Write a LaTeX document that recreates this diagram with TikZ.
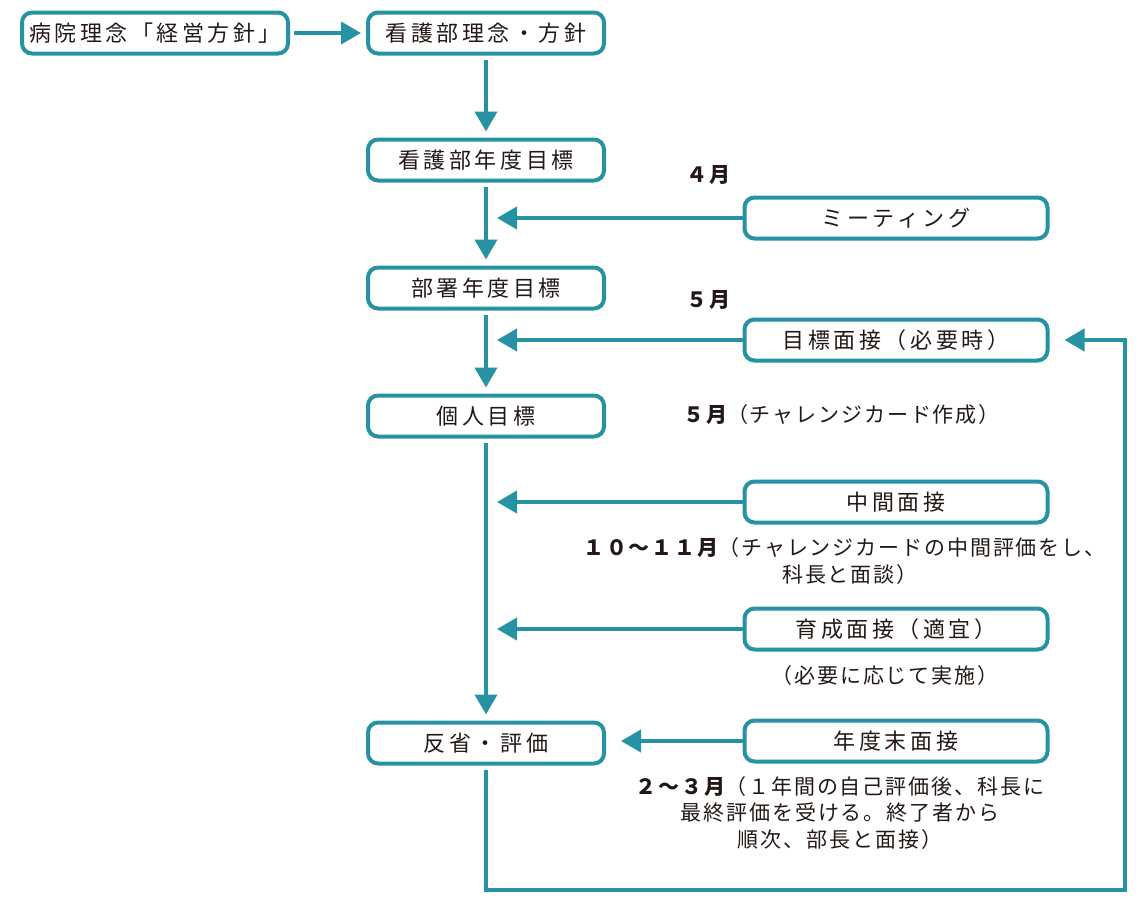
\documentclass[tikz,border=0pt]{standalone}
\usepackage{fontspec}
\setmainfont{Noto Sans CJK JP}
\newfontfamily\boxfont[LetterSpace=16]{Noto Sans CJK JP}
\newfontfamily\lblfont[LetterSpace=9]{Noto Sans CJK JP}
\usetikzlibrary{arrows.meta}
\definecolor{teal1}{RGB}{38,146,164}
\definecolor{ink}{RGB}{35,24,21}
\begin{document}
\begin{tikzpicture}[x=1pt,y=-1pt,
  bx/.style={draw=teal1, line width=4pt, rounded corners=10pt, minimum height=41pt, inner sep=0pt, text=ink, font=\boxfont\fontsize{22}{24}\selectfont},
  lbox/.style={bx, minimum width=236pt},
  rbox/.style={bx, minimum width=303pt},
  arr/.style={draw=teal1, line width=4pt, -{Triangle[length=20pt,width=22pt]}},
  lbl/.style={inner sep=0pt, text=ink, font=\lblfont\fontsize{21}{26.5}\selectfont}]
\useasboundingbox (0,0) rectangle (1146,900);
% left column
\node[bx, minimum width=266pt] (A) at (155,33) {病院理念「経営方針」};
\node[lbox] (B) at (486,33) {看護部理念・方針};
\node[lbox] (C) at (486,160) {看護部年度目標};
\node[lbox] (D) at (486,288) {部署年度目標};
\node[lbox] (E) at (486,416) {個人目標};
\node[lbox] (F) at (486,743) {反省・評価};
% right column
\node[rbox] (M) at (896,218) {ミーティング};
\node[rbox] (T) at (896,340) {目標面接（必要時）};
\node[rbox] (K) at (896,502) {中間面接};
\node[rbox] (I) at (896,629) {育成面接（適宜）};
\node[rbox] (Y) at (896,741) {年度末面接};
% labels
\node[lbl, anchor=east] (l4) at (731,175) {\bfseries ４月};
\node[lbl, anchor=east] (l5) at (731,300) {\bfseries ５月};
\node[lbl, anchor=west] (l5b) at (683,415) {{\bfseries ５月}（チャレンジカード作成）};
\node[lbl, anchor=west] (l10) at (583,548) {{\bfseries １０～１１月}（チャレンジカードの中間評価をし、};
\node[lbl, anchor=west] (l10b) at (782,575) {科長と面談）};
\node[lbl] (lh) at (885,676) {（必要に応じて実施）};
\node[lbl, align=center] (l23) at (840,813) {{\bfseries ２～３月}（１年間の自己評価後、科長に\\最終評価を受ける。終了者から\\順次、部長と面接）};
% connectors
\coordinate (lb) at (488,890);
\coordinate (rb) at (1125,890);
\draw[arr] ([xshift=4pt]A.east) -- ([xshift=-5pt]B.west);
\draw[arr] ([yshift=-4pt]B.south) -- ([yshift=6pt]C.north);
\draw[arr] ([yshift=-4pt]C.south) -- ([yshift=6pt]D.north);
\draw[arr] ([yshift=-4pt]D.south) -- ([yshift=6pt]E.north);
\draw[arr] ([yshift=-4pt]E.south) -- ([yshift=6pt]F.north);
\draw[arr] (M.west) -- ([xshift=11pt]M.west -| C.south);
\draw[arr] (T.west) -- ([xshift=11pt]T.west -| C.south);
\draw[arr] (K.west) -- ([xshift=11pt]K.west -| C.south);
\draw[arr] (I.west) -- ([xshift=11pt]I.west -| C.south);
\draw[arr] (Y.west) -- ([xshift=15pt]F.east |- Y.west);
\draw[arr, rounded corners=0pt] ([yshift=-4pt]F.south) -- (F.south |- lb) -- (rb) -- (rb |- T.east) -- ([xshift=15pt]T.east);
\end{tikzpicture}
\end{document}
